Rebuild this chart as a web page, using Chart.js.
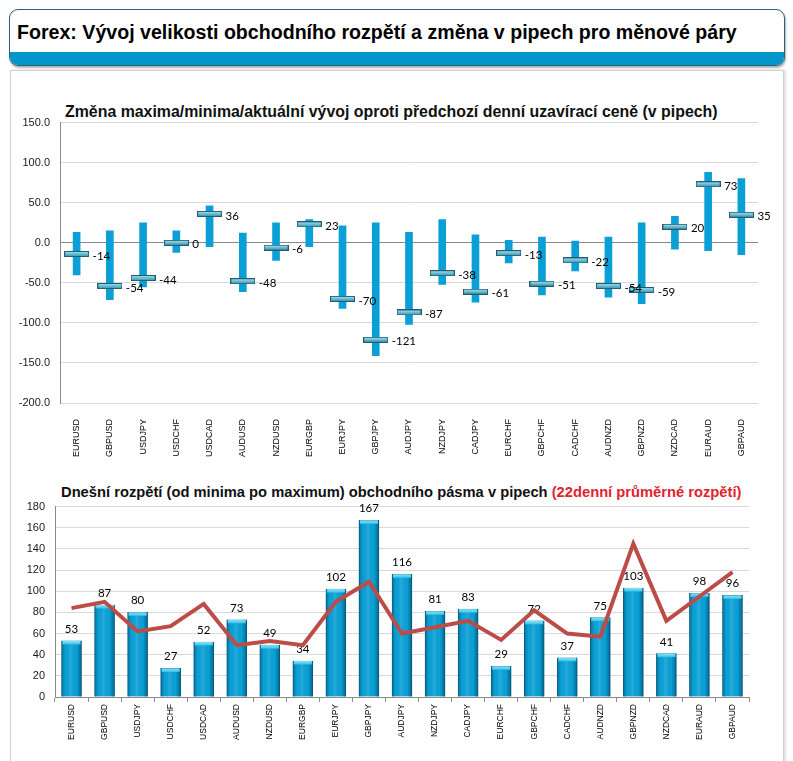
<!DOCTYPE html>
<html>
<head>
<meta charset="utf-8">
<script src="https://cdn.jsdelivr.net/npm/chart.js@4.4.1/dist/chart.umd.min.js"></script>
<style>
  html, body { margin:0; padding:0; background:#fff; }
  body { width:793px; height:761px; overflow:hidden; position:relative; font-family:'Liberation Sans', Arial, sans-serif; }
  #header { position:absolute; left:9px; top:9px; width:774px; height:55px; border:1.5px solid #2a5f7d; border-radius:9px; overflow:hidden; background:#fff; box-shadow:1px 2px 2px rgba(0,0,0,0.3); }
  #header .band { position:absolute; left:0; right:0; bottom:0; height:13px; background:#0096cb; }
  #htitle { position:absolute; left:17px; top:20px; line-height:24px; font-family:'Liberation Sans Narrow','Liberation Sans',Arial,sans-serif; font-weight:bold; font-size:21px; white-space:nowrap; color:#000; }
  #panel { position:absolute; left:10px; top:70px; width:772px; height:720px; border:1px solid #cfcfcf; box-shadow:2px 0 2px rgba(0,0,0,0.12); }
  .ctitle { position:absolute; font-weight:bold; white-space:nowrap; color:#111; line-height:18px; font-size:15px; }
  #t1 { left:65px; top:103px; }
  #t2 { left:61px; top:483px; }
  #t2 .red { color:#e0232e; }
  canvas { position:absolute; }
  #c1 { left:10px; top:106px; }
  #c2 { left:10px; top:490px; }
</style>
</head>
<body>
<div id="header"><div class="band"></div></div>
<div id="htitle">Forex: Vývoj velikosti obchodního rozpětí a změna v pipech pro měnové páry</div>
<div id="panel"></div>
<div id="t1" class="ctitle">Změna maxima/minima/aktuální vývoj oproti předchozí denní uzavírací ceně (v pipech)</div>
<div id="t2" class="ctitle">Dnešní rozpětí (od minima po maximum) obchodního pásma v pipech <span class="red">(22denní průměrné rozpětí)</span></div>
<canvas id="c1" width="770" height="352"></canvas>
<canvas id="c2" width="770" height="271"></canvas>
<script>
// ---------- DATA ----------
const categories = ['EURUSD','GBPUSD','USDJPY','USDCHF','USDCAD','AUDUSD','NZDUSD','EURGBP','EURJPY','GBPJPY','AUDJPY','NZDJPY','CADJPY','EURCHF','GBPCHF','CADCHF','AUDNZD','GBPNZD','NZDCAD','EURAUD','GBPAUD'];
const dayLow   = [-40,-71,-55,-12,-5,-61,-22,-5,-82,-141,-102,-52,-74,-25,-65,-35,-68,-76,-8,-10,-15];
const dayHigh  = [13,15,25,15,46,12,25,29,21,25,13,29,10,3,7,2,7,25,33,88,80];
const current  = [-14,-54,-44,0,36,-48,-6,23,-70,-121,-87,-38,-61,-13,-51,-22,-54,-59,20,73,35];
const todayRange = [53,87,80,27,52,73,49,34,102,167,116,81,83,29,72,37,75,103,41,98,96];
const avgRange22 = [84,90,62,67,88,49,53,49,90,109,60,66,72,54,82,60,57,145,72,95,118];
const topTicks = [-200,-150,-100,-50,0,50,100,150];
const bottomTicks = [0,20,40,60,80,100,120,140,160,180];

// ---------- fit titles to reference widths ----------
function fit(id, w){
  const el = document.getElementById(id);
  const fs = parseFloat(getComputedStyle(el).fontSize);
  const r = el.getBoundingClientRect().width;
  el.style.fontSize = (fs * w / r).toFixed(2) + 'px';
}
fit('htitle', 720); fit('t1', 653); fit('t2', 681);

Chart.defaults.font.family = "'Liberation Sans', Arial, sans-serif";
Chart.defaults.color = '#111';

// ---------- marker image ----------
const mk = document.createElement('canvas');
mk.width = 25; mk.height = 6;
(function(){
  const c = mk.getContext('2d');
  const g = c.createLinearGradient(0,0,0,6);
  g.addColorStop(0,'#c2eef6'); g.addColorStop(0.4,'#72c6dc'); g.addColorStop(1,'#2c8fae');
  c.fillStyle = g; c.fillRect(0,0,25,6);
  c.strokeStyle = '#2c5a69'; c.lineWidth = 1; c.strokeRect(0.5,0.5,24,5);
})();

const topLabels = {
  id:'topLabels',
  afterDatasetsDraw(chart){
    const meta = chart.getDatasetMeta(1);
    const ctx = chart.ctx;
    ctx.save();
    ctx.font = "11.5px Lato, 'Liberation Sans', sans-serif";
    ctx.fillStyle = '#000'; ctx.textAlign = 'left'; ctx.textBaseline = 'middle';
    meta.data.forEach((p,i) => ctx.fillText(String(current[i]), p.x + 16, p.y + 2));
    ctx.restore();
  }
};

new Chart(document.getElementById('c1'), {
  type:'bar',
  data:{
    labels: categories,
    datasets:[
      { type:'bar', data: categories.map((c,i)=>[dayLow[i], dayHigh[i]]), backgroundColor:'#0a9fd6', barThickness:7, order:2 },
      { type:'line', data: current, showLine:false, pointStyle: mk, pointRadius:5, order:1 }
    ]
  },
  options:{
    responsive:false, animation:false, devicePixelRatio:1,
    layout:{ padding:{ top:10, right:22, left:0, bottom:0 } },
    plugins:{ legend:{display:false}, tooltip:{enabled:false} },
    scales:{
      y:{
        min: topTicks[0], max: topTicks[topTicks.length-1],
        afterBuildTicks: s => { s.ticks = topTicks.map(v=>({value:v})); },
        afterFit: s => { s.width = 50; },
        ticks:{ font:{size:11}, color:'#1a1a1a', padding:10, callback: v => Number(v).toFixed(1) },
        grid:{ drawTicks:false, color: ctx => (ctx.tick && ctx.tick.value === 0) ? '#8a8a8a' : '#d9d9d9', lineWidth:1 },
        border:{ display:true, color:'#8a8a8a' }
      },
      x:{
        afterFit: s => { s.height = 55; },
        ticks:{ minRotation:90, maxRotation:90, font:{size:9}, color:'#000', padding:8, autoSkip:false },
        grid:{ display:false },
        border:{ display:false }
      }
    }
  },
  plugins:[topLabels]
});

const barDeco = {
  id:'barDeco',
  afterDatasetDraw(chart, args){
    if (args.index !== 0) return;
    const ctx = chart.ctx;
    const meta = chart.getDatasetMeta(0);
    ctx.save();
    meta.data.forEach((b,i) => {
      const {x,y,base,width} = b.getProps(['x','y','base','width'], true);
      const l = x - width/2;
      const g = ctx.createLinearGradient(l,0,l+width,0);
      g.addColorStop(0,'rgba(0,40,70,0.35)'); g.addColorStop(0.2,'rgba(0,0,0,0)');
      g.addColorStop(0.45,'rgba(255,255,255,0.12)'); g.addColorStop(0.75,'rgba(0,0,0,0)');
      g.addColorStop(1,'rgba(0,40,70,0.45)');
      ctx.fillStyle = g; ctx.fillRect(l, y, width, base - y);
      const cg = ctx.createLinearGradient(0,y,0,y+4);
      cg.addColorStop(0,'#8ae4f8'); cg.addColorStop(1,'#2bbbe6');
      ctx.fillStyle = cg; ctx.fillRect(l+1, y, width-2, 3.5);
      ctx.fillStyle = '#000';
      ctx.font = "11.5px Lato, 'Liberation Sans', sans-serif";
      ctx.textAlign = 'center'; ctx.textBaseline = 'alphabetic';
      ctx.fillText(String(todayRange[i]), x, y - 8);
    });
    ctx.restore();
  }
};

new Chart(document.getElementById('c2'), {
  type:'bar',
  data:{
    labels: categories,
    datasets:[
      { type:'bar', data: todayRange, backgroundColor:'#0aa2d8', borderColor:'#0b6f96', borderWidth:1, barThickness:20, order:2 },
      { type:'line', data: avgRange22, borderColor:'#bd4b48', borderWidth:4, pointRadius:0, tension:0, fill:false, order:1 }
    ]
  },
  options:{
    responsive:false, animation:false, devicePixelRatio:1,
    layout:{ padding:{ top:11, right:31, left:0, bottom:0 } },
    plugins:{ legend:{display:false}, tooltip:{enabled:false} },
    scales:{
      y:{
        min: bottomTicks[0], max: bottomTicks[bottomTicks.length-1],
        afterBuildTicks: s => { s.ticks = bottomTicks.map(v=>({value:v})); },
        afterFit: s => { s.width = 45; },
        ticks:{ font:{size:11}, color:'#1a1a1a', padding:10 },
        grid:{ drawTicks:false, color:'#d9d9d9' },
        border:{ display:true, color:'#8a8a8a' }
      },
      x:{
        afterFit: s => { s.height = 64; },
        ticks:{ minRotation:90, maxRotation:90, font:{size:8.5}, color:'#000', padding:2, autoSkip:false },
        grid:{ display:true, drawOnChartArea:false, drawTicks:true, tickLength:5, color:'#8a8a8a', offset:true },
        border:{ display:true, color:'#8a8a8a' }
      }
    }
  },
  plugins:[barDeco]
});
</script>
</body>
</html>
